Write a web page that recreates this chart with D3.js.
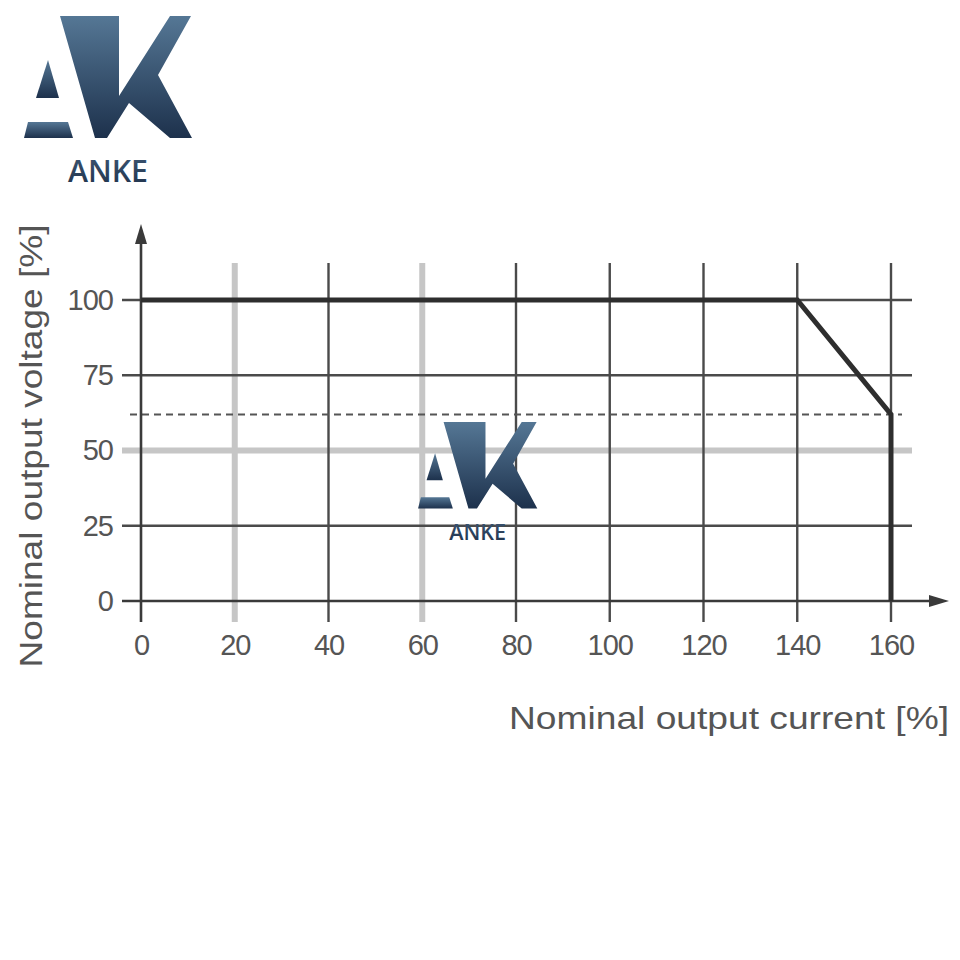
<!DOCTYPE html>
<html>
<head>
<meta charset="utf-8">
<script src="https://cdn.jsdelivr.net/npm/d3@7"></script>
<style>
  html, body { margin: 0; padding: 0; background: #fff; }
  svg { display: block; }
</style>
</head>
<body>
<svg id="chart" width="960" height="960"></svg>
<script>
// ---- data ----
const xTicks = [0, 20, 40, 60, 80, 100, 120, 140, 160];
const yTicks = [0, 25, 50, 75, 100];
const lightXGrid = [20, 60];
const lightYGrid = [50];
const curveCurrent = [0, 140, 160, 160];
const curveVoltage = [100, 100, 62, 0];
const limitVoltage = 62;
const xTitle = "Nominal output current [%]";
const yTitle = "Nominal output voltage [%]";
const brand = "ANKE";

const svg = d3.select("#chart");
const x = d3.scaleLinear().domain([0, 160]).range([141, 891]);
const y = d3.scaleLinear().domain([0, 100]).range([601, 300]);

const defs = svg.append("defs");
const grad = defs.append("linearGradient").attr("id", "logoGrad")
  .attr("x1", 0).attr("y1", 0).attr("x2", 0).attr("y2", 1);
grad.append("stop").attr("offset", "0%").attr("stop-color", "#557795");
grad.append("stop").attr("offset", "100%").attr("stop-color", "#1d314c");
const tgrad = defs.append("linearGradient").attr("id", "textGrad")
  .attr("x1", 0).attr("y1", 0).attr("x2", 0).attr("y2", 1);
tgrad.append("stop").attr("offset", "0%").attr("stop-color", "#3f5a78");
tgrad.append("stop").attr("offset", "100%").attr("stop-color", "#1d2f47");

const grid = svg.append("g");
const gridLight = "#c6c6c6", gridDark = "#4a4a4a";

// light grid lines
grid.selectAll(".lv").data(lightXGrid).join("line")
  .attr("x1", d => x(d)).attr("x2", d => x(d))
  .attr("y1", 263).attr("y2", 622)
  .attr("stroke", gridLight).attr("stroke-width", 6);
grid.selectAll(".lh").data(lightYGrid).join("line")
  .attr("x1", 122).attr("x2", 912)
  .attr("y1", d => y(d)).attr("y2", d => y(d))
  .attr("stroke", gridLight).attr("stroke-width", 6);

// dark grid lines
grid.selectAll(".dv").data(xTicks.filter(d => d > 0 && !lightXGrid.includes(d))).join("line")
  .attr("x1", d => x(d)).attr("x2", d => x(d))
  .attr("y1", 263).attr("y2", 622)
  .attr("stroke", gridDark).attr("stroke-width", 2.4);
grid.selectAll(".dh").data(yTicks.filter(d => d > 0 && !lightYGrid.includes(d))).join("line")
  .attr("x1", 122).attr("x2", 912)
  .attr("y1", d => y(d)).attr("y2", d => y(d))
  .attr("stroke", gridDark).attr("stroke-width", 2.4);

// dashed limit line
svg.append("line")
  .attr("x1", 130).attr("x2", 902)
  .attr("y1", y(limitVoltage)).attr("y2", y(limitVoltage))
  .attr("stroke", "#555").attr("stroke-width", 2)
  .attr("stroke-dasharray", "7,5");

// axes lines with arrows
svg.append("line").attr("x1", x(0)).attr("x2", x(0)).attr("y1", 622).attr("y2", 240)
  .attr("stroke", "#3a3a3a").attr("stroke-width", 2.6);
svg.append("path").attr("d", `M${x(0)},224 L${x(0)-6},244 L${x(0)+6},244 Z`).attr("fill", "#3a3a3a");
svg.append("line").attr("x1", 122).attr("x2", 932).attr("y1", y(0)).attr("y2", y(0))
  .attr("stroke", "#3a3a3a").attr("stroke-width", 2.6);
svg.append("path").attr("d", `M949,${y(0)} L929,${y(0)-6} L929,${y(0)+6} Z`).attr("fill", "#3a3a3a");

// tick labels via axes
const fontFam = "'Liberation Sans', Arial, sans-serif";
const xAxis = svg.append("g").attr("transform", `translate(0,${y(0)})`)
  .call(d3.axisBottom(x).tickValues(xTicks).tickSize(0).tickPadding(33));
xAxis.select(".domain").remove();
xAxis.selectAll("text").attr("font-family", fontFam).attr("font-size", 29)
  .attr("fill", "#555").attr("letter-spacing", "-1");
const yAxis = svg.append("g").attr("transform", `translate(113,0)`)
  .call(d3.axisLeft(y).tickValues(yTicks).tickSize(0).tickPadding(0));
yAxis.select(".domain").remove();
yAxis.selectAll("text").attr("font-family", fontFam).attr("font-size", 29)
  .attr("fill", "#555").attr("letter-spacing", "-1");
svg.selectAll(".tick line").remove();

// curve
const line = d3.line().x(d => x(d[0])).y(d => y(d[1]));
svg.append("path").datum(d3.zip(curveCurrent, curveVoltage))
  .attr("d", line).attr("fill", "none")
  .attr("stroke", "#2e2e2e").attr("stroke-width", 5)
  .attr("stroke-linejoin", "miter");

// axis titles
svg.append("text").text(xTitle)
  .attr("x", 949).attr("y", 729).attr("text-anchor", "end")
  .attr("font-family", fontFam).attr("font-size", 32).attr("fill", "#555")
  .attr("textLength", 440).attr("lengthAdjust", "spacingAndGlyphs");
svg.append("text").text(yTitle)
  .attr("transform", "translate(42,446) rotate(-90)")
  .attr("text-anchor", "middle")
  .attr("font-family", fontFam).attr("font-size", 32).attr("fill", "#555")
  .attr("textLength", 443).attr("lengthAdjust", "spacingAndGlyphs");

// logo
function drawLogo(g) {
  g.append("path").attr("fill", "url(#logoGrad)")
    .attr("d", "M60,16 L119,16 L119,96 L170,16 L191,16 L158,75 L192,138 L170,138 L129,103 L107,138 L95,138 Z");
  g.append("path").attr("fill", "url(#logoGrad)")
    .attr("d", "M48,60 L36,98 L59,98 Z");
  g.append("path").attr("fill", "url(#logoGrad)")
    .attr("d", "M28,122 L68,122 L73,138 L24,138 Z");
  g.append("text").text(brand)
    .attr("x", 108).attr("y", 182).attr("text-anchor", "middle")
    .attr("font-family", "'Open Sans', 'Noto Sans', sans-serif").attr("font-weight", 600)
    .attr("font-size", 30).attr("fill", "url(#textGrad)")
    .attr("textLength", 80).attr("lengthAdjust", "spacingAndGlyphs");
}
drawLogo(svg.append("g"));
drawLogo(svg.append("g").attr("transform", "translate(401,410.6) scale(0.71)"));
</script>
</body>
</html>
